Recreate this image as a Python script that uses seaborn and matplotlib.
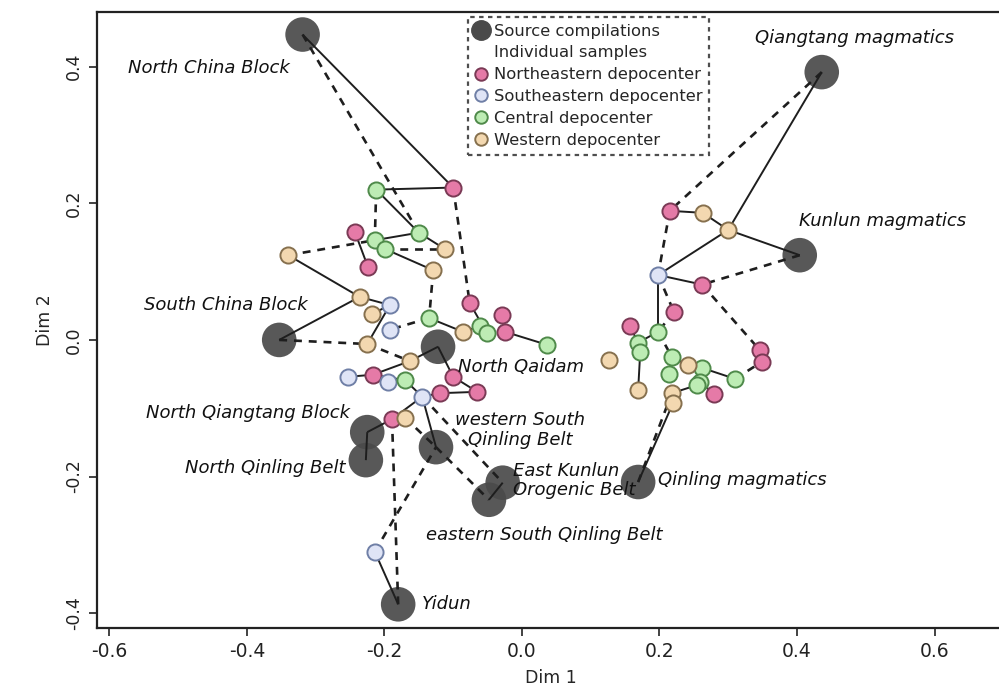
import matplotlib
matplotlib.use("Agg")
import matplotlib.pyplot as plt
from matplotlib.lines import Line2D
import seaborn as sns
import pandas as pd

# ---------------- data ----------------
src_id = ["S0", "S1", "S2", "S3", "S4", "S5", "S6", "S7", "S8", "S9", "S10", "S11"]
src_name = ["North China Block", "Qiangtang magmatics", "Kunlun magmatics",
            "South China Block", "North Qaidam", "North Qiangtang Block",
            "North Qinling Belt", "western South\nQinling Belt",
            "East Kunlun\nOrogenic Belt", "eastern South Qinling Belt",
            "Qinling magmatics", "Yidun"]
src_x = [-0.319, 0.436, 0.404, -0.353, -0.122, -0.225, -0.227, -0.125, -0.028, -0.048, 0.169, -0.180]
src_y = [0.447, 0.392, 0.124, 0.000, -0.010, -0.135, -0.176, -0.157, -0.209, -0.234, -0.208, -0.387]

smp_id = ["p1", "p2", "p3", "p4", "p5", "p6", "p7", "p8", "p9", "p10", "p11", "p12",
          "p13", "p14", "p15", "p16", "p17", "p18",
          "b1", "b2", "b3", "b4", "b5", "b6", "b7",
          "g1", "g2", "g3", "g4", "g5", "g6", "g7", "g8", "g9", "g10", "g11", "g12",
          "g13", "g14", "g15", "g16", "g17", "g18",
          "t1", "t2", "t3", "t4", "t5", "t6", "t7", "t8", "t9", "t10", "t11", "t12",
          "t13", "t14", "t15", "t16"]
smp_x = [-0.100, -0.243, -0.224, -0.076, -0.029, -0.025, -0.217, -0.100, -0.119, -0.065, -0.189, 0.215,
         0.262, 0.221, 0.157, 0.346, 0.349, 0.279,
         -0.192, -0.192, -0.253, -0.195, -0.145, -0.214, 0.198,
         -0.212, -0.214, -0.199, -0.150, -0.135, -0.061, -0.051, 0.036, -0.170, 0.198, 0.169, 0.172,
         0.218, 0.214, 0.262, 0.259, 0.310, 0.255,
         -0.340, -0.112, -0.129, -0.236, -0.218, -0.225, -0.086, -0.163, -0.170, 0.263, 0.300, 0.241,
         0.169, 0.218, 0.220, 0.127]
smp_y = [0.223, 0.158, 0.107, 0.054, 0.037, 0.012, -0.051, -0.054, -0.078, -0.076, -0.116, 0.189,
         0.081, 0.041, 0.020, -0.015, -0.032, -0.079,
         0.051, 0.015, -0.054, -0.061, -0.083, -0.310, 0.095,
         0.220, 0.146, 0.133, 0.157, 0.032, 0.020, 0.010, -0.007, -0.059, 0.012, -0.004, -0.018,
         -0.025, -0.050, -0.041, -0.061, -0.057, -0.066,
         0.124, 0.133, 0.102, 0.063, 0.038, -0.006, 0.012, -0.031, -0.114, 0.186, 0.161, -0.037,
         -0.073, -0.078, -0.092, -0.029]
smp_group = (["Northeastern depocenter"] * 18 + ["Southeastern depocenter"] * 7 +
             ["Central depocenter"] * 18 + ["Western depocenter"] * 16)

solid_edges = [("S0", "p1"), ("g1", "p1"), ("g1", "g4"), ("g4", "t2"), ("g2", "g4"), ("g3", "t3"),
               ("p2", "p3"), ("t1", "t4"), ("t4", "S3"), ("t4", "b1"), ("b1", "t5"), ("b1", "t6"),
               ("g5", "t7"), ("t7", "g6"), ("p4", "g7"), ("p5", "p6"), ("p6", "g8"), ("g6", "g7"),
               ("S4", "t8"), ("S4", "p8"), ("t8", "p7"), ("p7", "b3"), ("p7", "g9"), ("g9", "b5"),
               ("b5", "p9"), ("b5", "S7"), ("b5", "p11"), ("p11", "S5"), ("S5", "S6"), ("p8", "p10"),
               ("p9", "p10"), ("S8", "S9"), ("S10", "t15"), ("b6", "S11"), ("p11", "t9"),
               ("S1", "t11"), ("S2", "t11"), ("t11", "t10"), ("t10", "p12"), ("t11", "b7"),
               ("b7", "p13"), ("b7", "g10"), ("p15", "g11"), ("g12", "t13"), ("g10", "g11"),
               ("g13", "g14"), ("g15", "t12"), ("g15", "g17"), ("p18", "g16"), ("t14", "t15"),
               ("t12", "g13"), ("g18", "t14")]
dashed_edges = [("S0", "g4"), ("g1", "g2"), ("p1", "p4"), ("t1", "g2"), ("g3", "t2"), ("t3", "g5"),
                ("S3", "t6"), ("g5", "b2"), ("t6", "t8"), ("p11", "S11"), ("b6", "S7"), ("t9", "S7"),
                ("b5", "S8"), ("S7", "S9"), ("S1", "p12"), ("S2", "p13"), ("p12", "b7"),
                ("b7", "p14"), ("p13", "p16"), ("g17", "p17"), ("S10", "t14"), ("g10", "g13"),
                ("g14", "t14"), ("p14", "g10")]

label_x = [-0.3375, 0.483, 0.525, -0.311, -0.093, -0.250, -0.257, -0.003, -0.013, 0.033, 0.198, -0.145]
label_y = [0.398, 0.442, 0.174, 0.051, -0.040, -0.107, -0.187, -0.132, -0.206, -0.285, -0.205, -0.387]
label_ha = ["right", "center", "center", "right", "left", "right", "right", "center", "left",
            "center", "left", "left"]

group_order = ["Northeastern depocenter", "Southeastern depocenter", "Central depocenter",
               "Western depocenter"]
face = {"Northeastern depocenter": "#e57aa7", "Southeastern depocenter": "#dfe4f6",
        "Central depocenter": "#bdecb4", "Western depocenter": "#f3d8b0"}
edge = {"Northeastern depocenter": "#7a3a55", "Southeastern depocenter": "#6f7fa6",
        "Central depocenter": "#4f8a4a", "Western depocenter": "#86704e"}

# ---------------- plot ----------------
sns.set_style("ticks")
plt.rcParams["font.family"] = ["DejaVu Sans"]
plt.rcParams["axes.unicode_minus"] = False

fig = plt.figure(figsize=(9.99, 6.96), dpi=100)
ax = fig.add_axes([97 / 999, 1 - 628 / 696, (1005 - 97) / 999, (628 - 12) / 696])

src = pd.DataFrame({"id": src_id, "name": src_name, "x": src_x, "y": src_y})
smp = pd.DataFrame({"id": smp_id, "x": smp_x, "y": smp_y, "group": smp_group})
pos = {r.id: (r.x, r.y) for r in src.itertuples()}
pos.update({r.id: (r.x, r.y) for r in smp.itertuples()})

sns.scatterplot(data=src, x="x", y="y", s=620, color="#4a4a4a", edgecolor="none",
                alpha=0.92, legend=False, ax=ax, zorder=2)

for a, b in solid_edges:
    ax.plot([pos[a][0], pos[b][0]], [pos[a][1], pos[b][1]], color="#1e1e1e", lw=1.4,
            zorder=3, solid_capstyle="butt")
for a, b in dashed_edges:
    ax.plot([pos[a][0], pos[b][0]], [pos[a][1], pos[b][1]], color="#1e1e1e", lw=1.9,
            ls=(0, (3.0, 2.6)), zorder=3, dash_capstyle="butt")

for g in group_order:
    d = smp[smp["group"] == g]
    sns.scatterplot(data=d, x="x", y="y", s=135, color=face[g], edgecolor=edge[g],
                    linewidth=1.4, legend=False, ax=ax, zorder=4)

for name, lx, ly, ha in zip(src_name, label_x, label_y, label_ha):
    ax.text(lx, ly, name, ha=ha, va="center", fontsize=13, style="italic",
            color="#111111", zorder=6, linespacing=1.1)

ax.set_xlim(-0.618, 0.7025)
ax.set_ylim(-0.4217, 0.480)
ax.set_xticks([-0.6, -0.4, -0.2, 0.0, 0.2, 0.4, 0.6])
ax.set_xticklabels(["-0.6", "-0.4", "-0.2", "0.0", "0.2", "0.4", "0.6"], fontsize=13.5)
ax.set_yticks([-0.4, -0.2, 0.0, 0.2, 0.4])
ax.set_yticklabels(["-0.4", "-0.2", "0.0", "0.2", "0.4"], fontsize=12.5,
                   rotation=90, va="center")
ax.tick_params(direction="out", length=6, width=1.2, colors="#222222", pad=4)
ax.set_xlabel("Dim 1", fontsize=12.5, labelpad=6)
ax.set_ylabel("Dim 2", fontsize=12.5, labelpad=8)
for s in ["left", "bottom", "top"]:
    ax.spines[s].set_linewidth(1.6)
    ax.spines[s].set_color("#222222")
ax.spines["right"].set_visible(False)

handles = [Line2D([], [], ls="", marker="o", markersize=14, mfc="#4a4a4a", mec="#4a4a4a"),
           Line2D([], [], ls="", marker="")]
labels = ["Source compilations", "Individual samples"]
for g in group_order:
    handles.append(Line2D([], [], ls="", marker="o", markersize=9, mfc=face[g], mec=edge[g],
                          mew=1.4))
    labels.append(g)
leg = ax.legend(handles, labels, loc="upper left", bbox_to_anchor=((468 - 97) / 908, (628 - 17) / 616),
                fontsize=11.8, frameon=True, fancybox=False, handlelength=0.8,
                handletextpad=0.4, labelspacing=0.42, borderpad=0.4, borderaxespad=0)
fr = leg.get_frame()
fr.set_linestyle((0, (2, 2)))
fr.set_edgecolor("#222222")
fr.set_linewidth(1.6)
leg.set_zorder(7)

fig.savefig("out.png", dpi=100)
